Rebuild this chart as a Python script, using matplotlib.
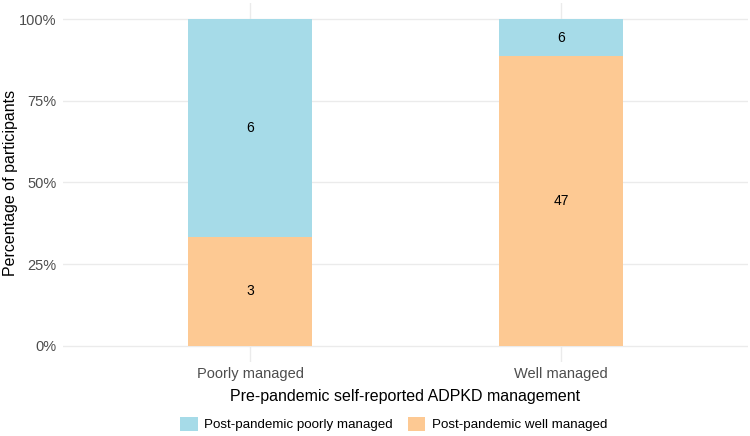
import matplotlib
matplotlib.use("Agg")
import matplotlib.pyplot as plt
from matplotlib.patches import Patch
from matplotlib.ticker import PercentFormatter

plt.rcParams['font.family'] = ['Liberation Sans', 'DejaVu Sans']

categories = ["Poorly managed", "Well managed"]
well_counts = [3, 47]
poor_counts = [6, 6]
series_names = ["Post-pandemic poorly managed", "Post-pandemic well managed"]
blue = "#A6DBE8"
orange = "#FDC993"

totals = [w + p for w, p in zip(well_counts, poor_counts)]
well_frac = [w / t for w, t in zip(well_counts, totals)]
poor_frac = [p / t for p, t in zip(poor_counts, totals)]

fig = plt.figure(figsize=(7.5, 4.36), dpi=100)
ax = fig.add_axes([0.0845, 0.17, 0.9125, 0.823])

x = [1, 2]
ax.bar(x, well_frac, width=0.4, color=orange, zorder=2)
ax.bar(x, poor_frac, width=0.4, bottom=well_frac, color=blue, zorder=2)

for i in range(len(x)):
    ax.text(x[i], well_frac[i] / 2, str(well_counts[i]), ha='center', va='center',
            fontsize=10, color='black', zorder=3)
    ax.text(x[i], well_frac[i] + poor_frac[i] / 2, str(poor_counts[i]), ha='center',
            va='center', fontsize=10, color='black', zorder=3)

ax.set_xlim(0.4, 2.6)
ax.set_ylim(-0.05, 1.05)
ax.set_xticks(x)
ax.set_xticklabels(categories)
ax.set_yticks([0, 0.25, 0.5, 0.75, 1.0])
ax.yaxis.set_major_formatter(PercentFormatter(1.0, decimals=0))
ax.grid(True, color='#EBEBEB', linewidth=1.0, zorder=0)
for s in ax.spines.values():
    s.set_visible(False)
ax.tick_params(length=0, labelsize=10.5, colors='#4D4D4D', pad=5)
ax.tick_params(axis='x', pad=4)
ax.set_xlabel("Pre-pandemic self-reported ADPKD management", fontsize=11.5)
ax.set_ylabel("Percentage of participants", fontsize=11.5)
ax.xaxis.set_label_coords(0.5, -0.075)
ax.yaxis.set_label_coords(-0.066, 0.5)

handles = [Patch(facecolor=blue, label=series_names[0]),
           Patch(facecolor=orange, label=series_names[1])]
fig.legend(handles=handles, loc='center', bbox_to_anchor=(0.525, 12 / 436), ncol=2,
           frameon=False, fontsize=9.6, handlelength=1.3, handleheight=1.3,
           handletextpad=0.5, columnspacing=1.1)

fig.savefig("out.png", dpi=100)
